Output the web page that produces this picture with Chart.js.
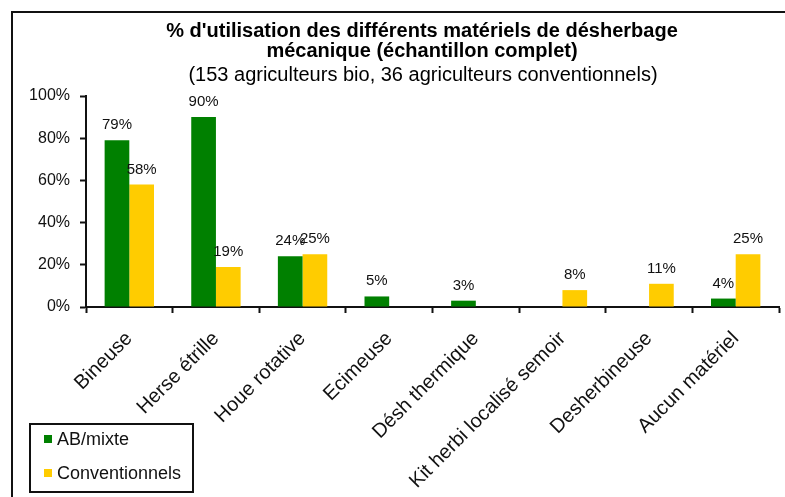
<!DOCTYPE html>
<html>
<head>
<meta charset="utf-8">
<script src="https://cdn.jsdelivr.net/npm/chart.js@4"></script>
<style>
  html, body { margin: 0; padding: 0; background: #fff; }
  #wrap { width: 785px; height: 497px; position: relative; }
</style>
</head>
<body>
<div id="wrap"><canvas id="chart"></canvas></div>
<script>
const categories = ['Bineuse', 'Herse étrille', 'Houe rotative', 'Ecimeuse', 'Désh thermique',
    'Kit herbi localisé semoir', 'Desherbineuse', 'Aucun matériel'];
const abMixte = [79, 90, 24, 5, 3, 0, 0, 4];
const conventionnels = [58, 19, 25, 0, 0, 8, 11, 25];
const yTicks = [0, 20, 40, 60, 80, 100];
const titleLines = ["% d'utilisation des différents matériels de désherbage", 'mécanique (échantillon complet)'];
const subtitle = '(153 agriculteurs bio, 36 agriculteurs conventionnels)';

const FONT = "'Liberation Sans', Arial, sans-serif";

// cadre noir autour du graphique (coupé à droite et en bas) + titre
const framePlugin = {
    id: 'frame',
    beforeDraw(chart) {
        const ctx = chart.ctx;
        ctx.save();
        ctx.strokeStyle = '#111';
        ctx.lineWidth = 2;
        ctx.strokeRect(12, 12, 800, 520);

        ctx.fillStyle = '#000';
        ctx.textAlign = 'center';
        ctx.textBaseline = 'middle';
        ctx.font = 'bold 20px ' + FONT;
        titleLines.forEach((t, i) => ctx.fillText(t, 422, 31 + i * 20));
        ctx.font = '20px ' + FONT;
        ctx.fillText(subtitle, 423, 75);
        ctx.restore();
    }
};

// pourcentages au-dessus des barres
const valueLabels = {
    id: 'valueLabels',
    afterDatasetsDraw(chart) {
        const ctx = chart.ctx;
        ctx.save();
        ctx.font = '15px ' + FONT;
        ctx.fillStyle = '#111';
        ctx.textAlign = 'center';
        ctx.textBaseline = 'alphabetic';
        chart.data.datasets.forEach((ds, i) => {
            chart.getDatasetMeta(i).data.forEach((bar, j) => {
                const v = ds.data[j];
                if (!v) return;
                ctx.fillText(v + '%', bar.x, bar.y - 11);
            });
        });
        ctx.restore();
    }
};

// légende encadrée en bas à gauche
const boxLegend = {
    id: 'boxLegend',
    afterDraw(chart) {
        const ctx = chart.ctx;
        ctx.save();
        ctx.strokeStyle = '#111';
        ctx.lineWidth = 2;
        ctx.strokeRect(30, 424, 163, 68);
        ctx.font = '18px ' + FONT;
        ctx.textBaseline = 'middle';
        chart.data.datasets.forEach((ds, i) => {
            const y = 439 + i * 34;
            ctx.fillStyle = ds.backgroundColor;
            ctx.fillRect(44, y - 4, 8, 8);
            ctx.fillStyle = '#111';
            ctx.fillText(ds.label, 57, y + 1);
        });
        ctx.restore();
    }
};

const ctx = document.getElementById('chart').getContext('2d');
new Chart(ctx, {
    type: 'bar',
    data: {
        labels: categories,
        datasets: [{
            label: 'AB/mixte',
            data: abMixte,
            backgroundColor: '#008000',
            categoryPercentage: 0.57,
            barPercentage: 1.0
        }, {
            label: 'Conventionnels',
            data: conventionnels,
            backgroundColor: '#FFCC00',
            categoryPercentage: 0.57,
            barPercentage: 1.0
        }]
    },
    options: {
        responsive: true,
        maintainAspectRatio: false,
        animation: false,
        layout: { padding: { left: 0, right: 6, top: 96, bottom: 0 } },
        plugins: {
            legend: { display: false },
            tooltip: { enabled: false }
        },
        scales: {
            x: {
                afterFit: s => { s.height = 190; },
                grid: { drawOnChartArea: false, color: '#111', tickLength: 6, tickWidth: 2, offset: true },
                border: { color: '#111', width: 2 },
                ticks: {
                    autoSkip: false,
                    maxRotation: 45,
                    minRotation: 45,
                    padding: 14,
                    color: '#111',
                    font: { family: FONT, size: 20 }
                }
            },
            y: {
                min: 0,
                max: 100,
                afterFit: s => { s.width = 86; },
                afterBuildTicks: s => { s.ticks = yTicks.map(v => ({ value: v })); },
                grid: { drawOnChartArea: false, color: '#111', tickLength: 6, tickWidth: 2 },
                border: { color: '#111', width: 2 },
                ticks: {
                    padding: 10,
                    color: '#111',
                    font: { family: FONT, size: 16 },
                    callback: v => v + '%'
                }
            }
        }
    },
    plugins: [framePlugin, valueLabels, boxLegend]
});
</script>
</body>
</html>
